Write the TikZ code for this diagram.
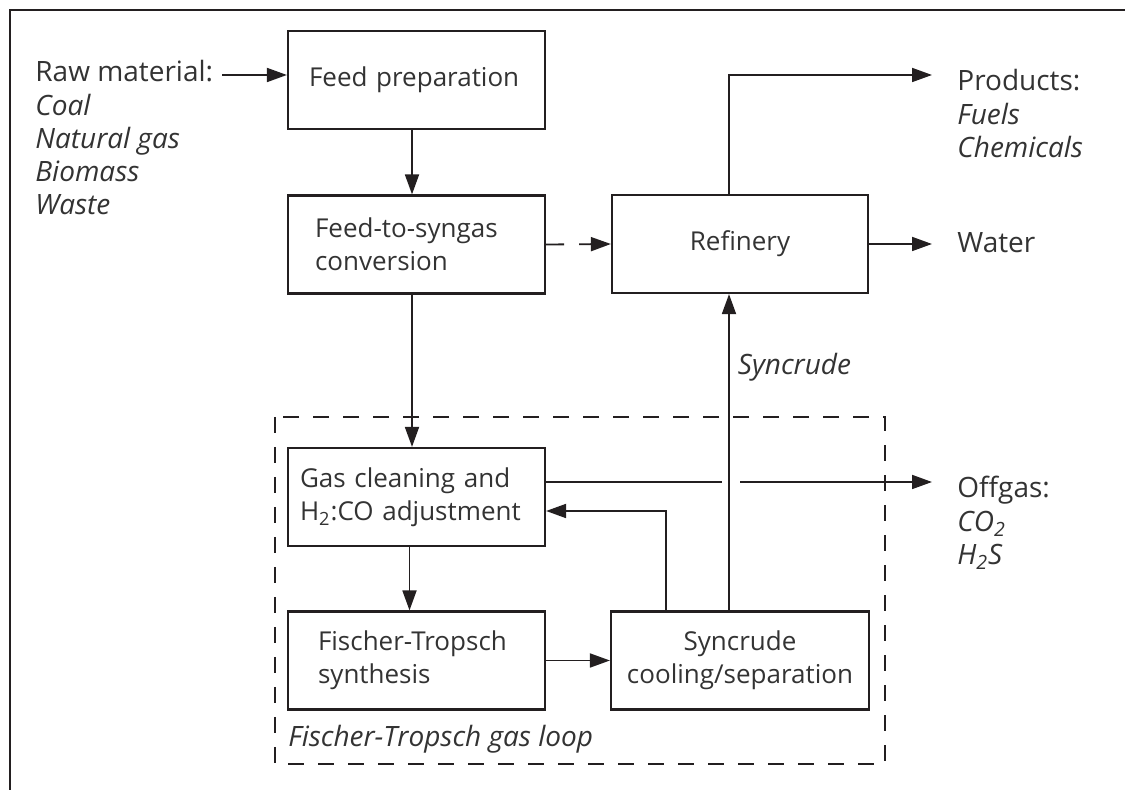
\documentclass[tikz,border=0pt]{standalone}
\usepackage{fontspec}
\setmainfont{Open Sans}
\usetikzlibrary{arrows.meta,calc}
\definecolor{ink}{HTML}{231F20}
\definecolor{txtgray}{HTML}{333333}
\tikzstyle{blk} = [draw=ink, line width=1.1pt, minimum height=49pt, text=txtgray,
    font=\fontsize{13}{16.5}\selectfont]
\tikzstyle{flow} = [draw=ink, line width=0.9pt, -{Triangle[length=10pt, width=7pt]}]
\tikzstyle{plain} = [draw=ink, line width=0.9pt]
\tikzstyle{txt} = [text=txtgray, inner sep=0pt, align=left,
    font=\fontsize{14}{16.5}\selectfont]
\tikzstyle{itxt} = [txt, font=\fontsize{14}{16.5}\selectfont\itshape]
\tikzstyle{loopbox} = [draw=ink, line width=1.1pt, dash pattern=on 8pt off 7pt]

\begin{document}
\begin{tikzpicture}[x=0.5pt, y=-0.5pt]
\useasboundingbox (0,0) rectangle (1125,790);
\draw[ink, line width=1pt] (10,790) -- (10,10) -- (1125,10);

% gas loop
\draw[loopbox] (275,417) rectangle (885,764);
\node[itxt, anchor=base west] (looplbl) at (288,747) {Fischer-Tropsch gas loop};

% blocks
\node[blk, text width=107.5pt, inner xsep=10.5pt, align=left] (prep) at (416.5,80) {Feed preparation};
\node[blk, text width=101.5pt, inner xsep=13.5pt, align=left] (conv) at (416.5,244.5) {Feed-to-syngas\\conversion};
\node[blk, minimum width=128pt, align=center] (refinery) at (740,244) {Refinery};
\node[blk, text width=116.5pt, inner xsep=6pt, align=left] (clean) at (416.5,497) {Gas cleaning and\\H\textsubscript{2}:CO adjustment};
\node[blk, text width=98.5pt, inner xsep=15pt, align=left] (fts) at (416.5,660.5) {Fischer-Tropsch\\synthesis};
\node[blk, text width=123pt, inner xsep=3pt, align=center] (sep) at (740,660.5) {Syncrude\\cooling/separation};

% inputs and outputs
\node[txt, anchor=base west] (rawhead) at (35,82) {Raw material:};
\node[itxt, anchor=north west] (rawlist) at (35,93.7) {Coal\\Natural gas\\Biomass\\Waste};
\node[txt, anchor=base west] (prodhead) at (957,91) {Products:};
\node[itxt, anchor=north west] (prodlist) at (957,102.7) {Fuels\\Chemicals};
\node[txt, anchor=base west] (water) at (957,253) {Water};
\node[txt, anchor=base west] (offhead) at (957,498) {Offgas:};
\node[itxt, anchor=north west] (offlist) at (957,511) {CO\textsubscript{2}\\H\textsubscript{2}S};

\coordinate (rawtail) at (222,75);
\coordinate (feedx) at (412,0);
\coordinate (cleanx) at (409.5,0);
\coordinate (riser) at (729,0);
\coordinate (recx) at (666,0);
\coordinate (outx) at (932,0);
\coordinate (prodtip) at (932,75);
\coordinate (offy) at ([yshift=7.5pt]clean.east);
\coordinate (recy) at ([yshift=-7pt]clean.east);

% connectors
\draw[flow] (rawtail) -- (rawtail -| prep.west);
\draw[flow] (prep.south -| feedx) -- (conv.north -| feedx);
\draw[flow] (conv.south -| feedx) -- (clean.north -| feedx);
\draw[flow, dash pattern=on 9pt off 7.5pt] (conv.east) -- (refinery.west);
\draw[flow] (refinery.north -| riser) |- (prodtip);
\draw[flow] (refinery.east) -- (refinery.east -| outx);
\draw[flow] (sep.north -| riser) -- (refinery.south -| riser)
    node[itxt, pos=0.77, anchor=west, xshift=4pt] (synlbl) {Syncrude};
\draw[flow] (sep.north -| recx) |- (recy);
\draw[plain] (offy) -- ($(offy -| riser)+(-3.5pt,0)$);
\draw[flow] ($(offy -| riser)+(5.5pt,0)$) -- (offy -| outx);
\draw[flow] (clean.south -| cleanx) -- (fts.north -| cleanx);
\draw[flow] (fts.east) -- (sep.west);
\end{tikzpicture}
\end{document}
